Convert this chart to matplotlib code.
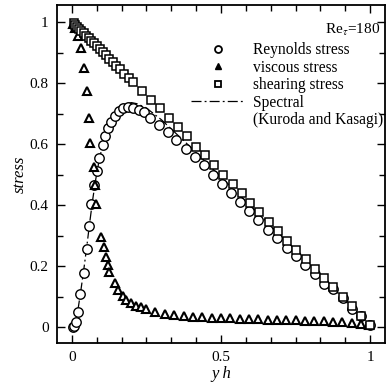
"""Stress balance in channel flow: Reynolds, viscous and total shear stress."""

import matplotlib
matplotlib.use('Agg')
import matplotlib.pyplot as plt
from matplotlib.lines import Line2D
from matplotlib.ticker import MultipleLocator, FixedLocator

plt.rcParams['font.family'] = ['Liberation Serif', 'DejaVu Serif']
plt.rcParams['mathtext.fontset'] = 'stix'

# Reynolds stress (circles)
x_rey = [0.002, 0.008, 0.014, 0.020, 0.028, 0.039, 0.049, 0.057, 0.064, 0.073,
         0.084, 0.092, 0.103, 0.112, 0.120, 0.131, 0.143, 0.157, 0.171, 0.187,
         0.204, 0.224, 0.243, 0.262, 0.292, 0.322, 0.350, 0.381, 0.412, 0.442,
         0.473, 0.503, 0.533, 0.563, 0.594, 0.624, 0.656, 0.688, 0.720, 0.751,
         0.781, 0.815, 0.845, 0.877, 0.908, 0.938, 0.969, 1.000]
rey = [0.000, 0.005, 0.017, 0.050, 0.108, 0.178, 0.255, 0.330, 0.403, 0.466,
       0.512, 0.556, 0.598, 0.625, 0.652, 0.674, 0.693, 0.707, 0.718, 0.721,
       0.718, 0.712, 0.704, 0.685, 0.663, 0.641, 0.614, 0.584, 0.559, 0.530,
       0.500, 0.470, 0.440, 0.411, 0.381, 0.351, 0.320, 0.291, 0.261, 0.233,
       0.203, 0.174, 0.143, 0.124, 0.094, 0.061, 0.036, 0.007]

# viscous stress (triangles)
x_visc = [0.004, 0.012, 0.020, 0.031, 0.042, 0.049, 0.056, 0.062, 0.075, 0.079,
          0.081, 0.098, 0.106, 0.113, 0.120, 0.126, 0.143, 0.154, 0.170, 0.182,
          0.199, 0.216, 0.232, 0.249, 0.280, 0.313, 0.344, 0.375, 0.406, 0.437,
          0.469, 0.500, 0.531, 0.563, 0.594, 0.625, 0.656, 0.688, 0.719, 0.750,
          0.781, 0.813, 0.844, 0.875, 0.906, 0.938, 0.969, 0.995]
visc = [0.995, 0.980, 0.955, 0.914, 0.851, 0.775, 0.687, 0.602, 0.524, 0.466,
        0.405, 0.297, 0.262, 0.231, 0.204, 0.182, 0.146, 0.122, 0.103, 0.090,
        0.078, 0.070, 0.065, 0.059, 0.048, 0.044, 0.039, 0.035, 0.033, 0.032,
        0.031, 0.030, 0.029, 0.028, 0.027, 0.026, 0.025, 0.024, 0.023, 0.022,
        0.021, 0.020, 0.019, 0.018, 0.016, 0.014, 0.011, 0.008]

# shearing stress (squares)
x_shear = [0.006, 0.012, 0.018, 0.025, 0.032, 0.040, 0.048, 0.056, 0.065, 0.074,
           0.083, 0.093, 0.103, 0.114, 0.125, 0.137, 0.149, 0.162, 0.176, 0.190,
           0.205, 0.235, 0.266, 0.294, 0.325, 0.355, 0.386, 0.417, 0.447, 0.478,
           0.508, 0.539, 0.569, 0.597, 0.628, 0.660, 0.691, 0.722, 0.753, 0.784,
           0.815, 0.846, 0.877, 0.908, 0.939, 0.970, 1.000]
shear = [0.996, 0.990, 0.984, 0.978, 0.970, 0.963, 0.955, 0.947, 0.938, 0.930,
         0.921, 0.911, 0.901, 0.891, 0.880, 0.868, 0.857, 0.845, 0.831, 0.818,
         0.803, 0.774, 0.745, 0.718, 0.687, 0.656, 0.625, 0.592, 0.563, 0.532,
         0.500, 0.470, 0.440, 0.407, 0.377, 0.346, 0.315, 0.284, 0.254, 0.222,
         0.192, 0.160, 0.130, 0.098, 0.068, 0.035, 0.008]

# Spectral DNS (Kuroda and Kasagi), Reynolds stress
x_spec = [0.0, 0.01, 0.02, 0.03, 0.04, 0.05, 0.06, 0.07, 0.08, 0.09, 0.10,
          0.12, 0.14, 0.16, 0.18, 0.20, 0.22, 0.25, 0.30, 0.40, 0.50, 0.60,
          0.70, 0.80, 0.90, 0.95, 1.0]
spec = [0.0, 0.012, 0.055, 0.12, 0.19, 0.265, 0.345, 0.42, 0.485, 0.54, 0.585,
        0.648, 0.69, 0.716, 0.731, 0.736, 0.732, 0.718, 0.68, 0.588, 0.492, 0.397,
        0.30, 0.203, 0.104, 0.052, 0.0]

W, H = 386, 387
fig = plt.figure(figsize=(W / 100, H / 100), dpi=100)
ax = fig.add_axes([57 / W, 1 - 343 / H, (385 - 57) / W, (343 - 5) / H])

ax.plot(x_spec, spec, color='black', linestyle='-.', linewidth=0.9,
        dashes=(8, 2.5, 1.5, 2.5), zorder=2)
ax.plot(x_rey, rey, linestyle='none', marker='o', markersize=6.8,
        markerfacecolor='white', markeredgecolor='black', markeredgewidth=1.0, zorder=3)
ax.plot(x_visc, visc, linestyle='none', marker='^', markersize=5.5,
        markerfacecolor='white', markeredgecolor='black', markeredgewidth=1.5, zorder=3)
ax.plot(x_shear, shear, linestyle='none', marker='s', markersize=5.3,
        markerfacecolor='white', markeredgecolor='black', markeredgewidth=1.1, zorder=4)

ax.set_xlim(-0.05, 1.05)
ax.set_ylim(-0.052, 1.056)

ax.xaxis.set_major_locator(FixedLocator([0, 0.5, 1]))
ax.xaxis.set_major_formatter(plt.FuncFormatter(lambda v, p: f'{v:g}'))
ax.xaxis.set_minor_locator(MultipleLocator(1 / 12))
ax.yaxis.set_major_locator(MultipleLocator(0.2))
ax.yaxis.set_major_formatter(plt.FuncFormatter(lambda v, p: f'{v:g}'))
ax.yaxis.set_minor_locator(MultipleLocator(0.1))
ax.tick_params(which='both', direction='in', top=True, right=True,
               labelsize=11, width=1.0, pad=6)
ax.tick_params(which='major', length=6)
ax.tick_params(which='minor', length=4)
for sp in ax.spines.values():
    sp.set_linewidth(1.3)

ax.set_xlabel('y h', fontstyle='italic', fontsize=12, labelpad=1)
ax.set_ylabel('stress', fontstyle='italic', fontsize=12, labelpad=1)

handles = [
    Line2D([], [], linestyle='none', marker='o', markersize=5,
           markerfacecolor='white', markeredgecolor='black', markeredgewidth=1.3),
    Line2D([], [], linestyle='none', marker='^', markersize=5,
           markerfacecolor='black', markeredgecolor='black'),
    Line2D([], [], linestyle='none', marker='s', markersize=4.5,
           markerfacecolor='white', markeredgecolor='black', markeredgewidth=1.3),
    Line2D([], [], color='black', linestyle='-.', linewidth=0.9,
           dashes=(8, 2.5, 1.5, 2.5)),
    Line2D([], [], linestyle='none'),
]
labels = ['Reynolds stress', 'viscous stress', 'shearing stress',
          'Spectral', '(Kuroda and Kasagi)']
ax.legend(handles, labels, loc='upper right', bbox_to_anchor=(1.0, 0.895),
          frameon=False, fontsize=11.2, handlelength=3.4, handletextpad=0.6,
          labelspacing=0.1, borderpad=0.1, borderaxespad=0.0)
ax.text(0.985, 0.95, r'Re$_\tau$=180', transform=ax.transAxes,
        ha='right', va='top', fontsize=11)

fig.savefig('out.png', dpi=100)
